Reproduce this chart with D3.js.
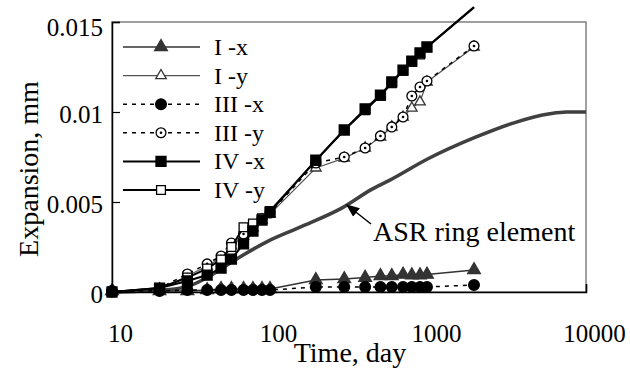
<!DOCTYPE html>
<html>
<head>
<meta charset="utf-8">
<script src="https://cdn.jsdelivr.net/npm/d3@7"></script>
<style>
  body { margin: 0; background: #fff; }
</style>
</head>
<body>
<svg id="chart" width="630" height="372" font-family="Liberation Serif"></svg>
<script>
// days of measurement (shared by all test series)
const days = [10, 20, 30, 40, 49, 57, 68, 78, 89, 100, 195, 295, 400, 500, 590, 695, 790, 890, 985, 1955];

const Ix   = [0.00006, 0.00006, 0.00006, 0.00011, 0.00017, 0.00017, 0.00017, 0.00017, 0.00017, 0.00017,
              0.00067, 0.00072, 0.0008, 0.00089, 0.00089, 0.00097, 0.00094, 0.00094, 0.00097, 0.00122];
const Iy   = [0, 0.00017, 0.00089, 0.00144, 0.00189, 0.00256, 0.00311, 0.00356, 0.004, 0.00433,
              0.00689, 0.00744, 0.008, 0.00861, 0.00917, 0.00972, 0.01022, 0.01056, 0.01167, 0.01361];
const IIIx = [0.00006, 0.00006, 0.00011, 0.00011, 0.00011, 0.00011, 0.00011, 0.00011, 0.00011, 0.00011,
              0.00028, 0.00028, 0.00028, 0.00028, 0.00028, 0.00028, 0.00028, 0.00028, 0.00028, 0.00039];
const IIIy = [0, 0.00022, 0.001, 0.00156, 0.002, 0.00272, 0.00322, 0.00367, 0.00406, 0.00439,
              0.00717, 0.0075, 0.008, 0.00867, 0.00917, 0.00972, 0.01089, 0.01139, 0.01172, 0.01367];
const IVx  = [0, 0.00022, 0.00061, 0.00094, 0.00133, 0.00183, 0.00267, 0.00339, 0.004, 0.00444,
              0.00733, 0.009, 0.01017, 0.01094, 0.01167, 0.01233, 0.01283, 0.01328, 0.01361, 0.01583];
const IVy  = [0, 0.00022, 0.0008, 0.0013, 0.0018, 0.0025, 0.0036, 0.0038, 0.0041, 0.0045,
              0.0073, 0.009, 0.0101, 0.0109, 0.0116, 0.0123, 0.0128, 0.0132, 0.0136, 0.0158];

// model curve
const asrDays = [10, 20, 30, 40, 58, 96, 155, 290, 440, 570, 1000, 2000, 3500, 5900, 7500, 10000];
const asrVals = [0, 0.0001, 0.0003, 0.0008, 0.0017, 0.0028, 0.0036, 0.0047, 0.0057, 0.0062, 0.0074, 0.0086, 0.0094, 0.0099, 0.01, 0.01];

const xTicks = [10, 100, 1000, 10000];
const yTicks = [0, 0.005, 0.01, 0.015];

const FONT = "Liberation Serif";

const series = [
  {name: "I -x",   vals: Ix,   sym: d3.symbolTriangle, size: 70, fill: "#333", stroke: "#333", line: "#333", lw: 1.5, dash: null},
  {name: "I -y",   vals: Iy,   sym: d3.symbolTriangle, size: 48, fill: "#fff", stroke: "#333", line: "#555", lw: 1.2, dash: null},
  {name: "III -x", vals: IIIx, sym: d3.symbolCircle,   size: 90, fill: "#000", stroke: "#000", line: "#000", lw: 1.5, dash: "4,5"},
  {name: "III -y", vals: IIIy, sym: d3.symbolCircle,   size: 76, fill: "#fff", stroke: "#000", line: "#000", lw: 1.5, dash: "4,5", dot: true},
  {name: "IV -x",  vals: IVx,  sym: d3.symbolSquare,   size: 100, fill: "#000", stroke: "#000", line: "#000", lw: 2, dash: null},
  {name: "IV -y",  vals: IVy,  sym: d3.symbolSquare,   size: 78, fill: "#fff", stroke: "#000", line: "#000", lw: 2, dash: null}
];

const margin = {top: 22, right: 44, bottom: 80, left: 112};
const width = 630 - margin.left - margin.right;
const height = 372 - margin.top - margin.bottom;

const svg = d3.select("#chart");
const g = svg.append("g").attr("transform", `translate(${margin.left},${margin.top})`);

const x = d3.scaleLog().domain([10, 10000]).range([0, width]);
const y = d3.scaleLinear().domain([0, 0.015]).range([height, 0]);

// plot area border (grey), axes drawn black on top
g.append("rect")
  .attr("width", width).attr("height", height)
  .attr("fill", "none").attr("stroke", "#808080").attr("stroke-width", 1.5);

// ASR ring element curve
g.append("path")
  .datum(asrDays.map((d, i) => [d, asrVals[i]]))
  .attr("fill", "none").attr("stroke", "#404040").attr("stroke-width", 3.5)
  .attr("d", d3.line().x(d => x(d[0])).y(d => y(d[1])).curve(d3.curveMonotoneX));

// draw order: IV-y sits under IV-x
const order = [0, 1, 2, 3, 5, 4];
order.forEach(k => {
  const s = series[k];
  const pts = days.map((d, i) => [d, s.vals[i]]);
  g.append("path")
    .datum(pts)
    .attr("fill", "none").attr("stroke", s.line).attr("stroke-width", s.lw)
    .attr("stroke-dasharray", s.dash)
    .attr("d", d3.line().x(d => x(d[0])).y(d => y(d[1])));
  const inside = pts.filter(p => p[1] <= 0.015);
  g.selectAll(null).data(inside).enter().append("path")
    .attr("transform", d => `translate(${x(d[0])},${y(d[1])})`)
    .attr("d", d3.symbol().type(s.sym).size(s.size))
    .attr("fill", s.fill).attr("stroke", s.stroke).attr("stroke-width", 1.3);
  if (s.dot) {
    g.selectAll(null).data(inside).enter().append("circle")
      .attr("cx", d => x(d[0])).attr("cy", d => y(d[1])).attr("r", 1.3).attr("fill", "#000");
  }
});

// axes (drop d3's default sans-serif on the axis groups)
const yAxis = d3.axisLeft(y).tickValues(yTicks).tickSize(-8).tickPadding(9)
  .tickFormat(d => d === 0 ? "0" : String(d));
const yAxisG = g.append("g").call(yAxis).attr("font-family", null).attr("font-size", null);
yAxisG.select(".domain").attr("stroke", "#000").attr("stroke-width", 1.5);
yAxisG.selectAll(".tick line").attr("stroke", "#000").attr("stroke-width", 1.2);
yAxisG.selectAll(".tick text")
  .attr("font-size", 25).attr("fill", "#000")
  .attr("dy", d => d === 0.015 ? "0.55em" : "0.4em");

const xAxis = d3.axisBottom(x).tickValues(xTicks).tickSize(-8).tickPadding(32)
  .tickFormat(d3.format("d"));
const xAxisG = g.append("g").attr("transform", `translate(0,${height})`).call(xAxis)
  .attr("font-family", null).attr("font-size", null);
xAxisG.select(".domain").attr("stroke", "#000").attr("stroke-width", 1.5);
xAxisG.selectAll(".tick line").attr("stroke", "#000").attr("stroke-width", 1.2);
xAxisG.selectAll(".tick text")
  .attr("font-size", 25).attr("fill", "#000")
  .attr("dx", 8);
svg.selectAll(".domain").attr("fill", "none");

// axis titles
svg.append("text")
  .attr("x", 350).attr("y", 362)
  .attr("text-anchor", "middle").attr("font-size", 28)
  .text("Time, day");

svg.append("text")
  .attr("transform", "translate(38,169) rotate(-90)")
  .attr("text-anchor", "middle").attr("font-size", 28)
  .text("Expansion, mm");

// annotation with arrow
svg.append("defs").append("marker")
  .attr("id", "arrow").attr("viewBox", "0 0 10 10")
  .attr("refX", 9).attr("refY", 5)
  .attr("markerWidth", 9).attr("markerHeight", 9)
  .attr("orient", "auto")
  .append("path").attr("d", "M0,1 L10,5 L0,9 z").attr("fill", "#000");

svg.append("line")
  .attr("x1", 371).attr("y1", 224).attr("x2", 347).attr("y2", 205)
  .attr("stroke", "#000").attr("stroke-width", 1.5)
  .attr("marker-end", "url(#arrow)");

svg.append("text")
  .attr("x", 373).attr("y", 241)
  .attr("font-size", 28)
  .text("ASR ring element");

// legend
const legend = svg.append("g").attr("transform", "translate(123,47)");
series.forEach((s, i) => {
  const row = legend.append("g").attr("transform", `translate(0,${i * 28.6})`);
  row.append("line")
    .attr("x1", 0).attr("x2", 77).attr("y1", 0).attr("y2", 0)
    .attr("stroke", s.line).attr("stroke-width", s.lw)
    .attr("stroke-dasharray", s.dash);
  row.append("path")
    .attr("transform", "translate(38,0)")
    .attr("d", d3.symbol().type(s.sym).size(s.size))
    .attr("fill", s.fill).attr("stroke", s.stroke).attr("stroke-width", 1.3);
  if (s.dot) {
    row.append("circle").attr("cx", 38).attr("cy", 0).attr("r", 1.3).attr("fill", "#000");
  }
  row.append("text")
    .attr("x", 91).attr("y", 8)
    .attr("font-size", 24)
    .text(s.name);
});

// make sure every label carries the serif face
svg.selectAll("text").attr("font-family", FONT).style("font-family", FONT);
</script>
</body>
</html>
